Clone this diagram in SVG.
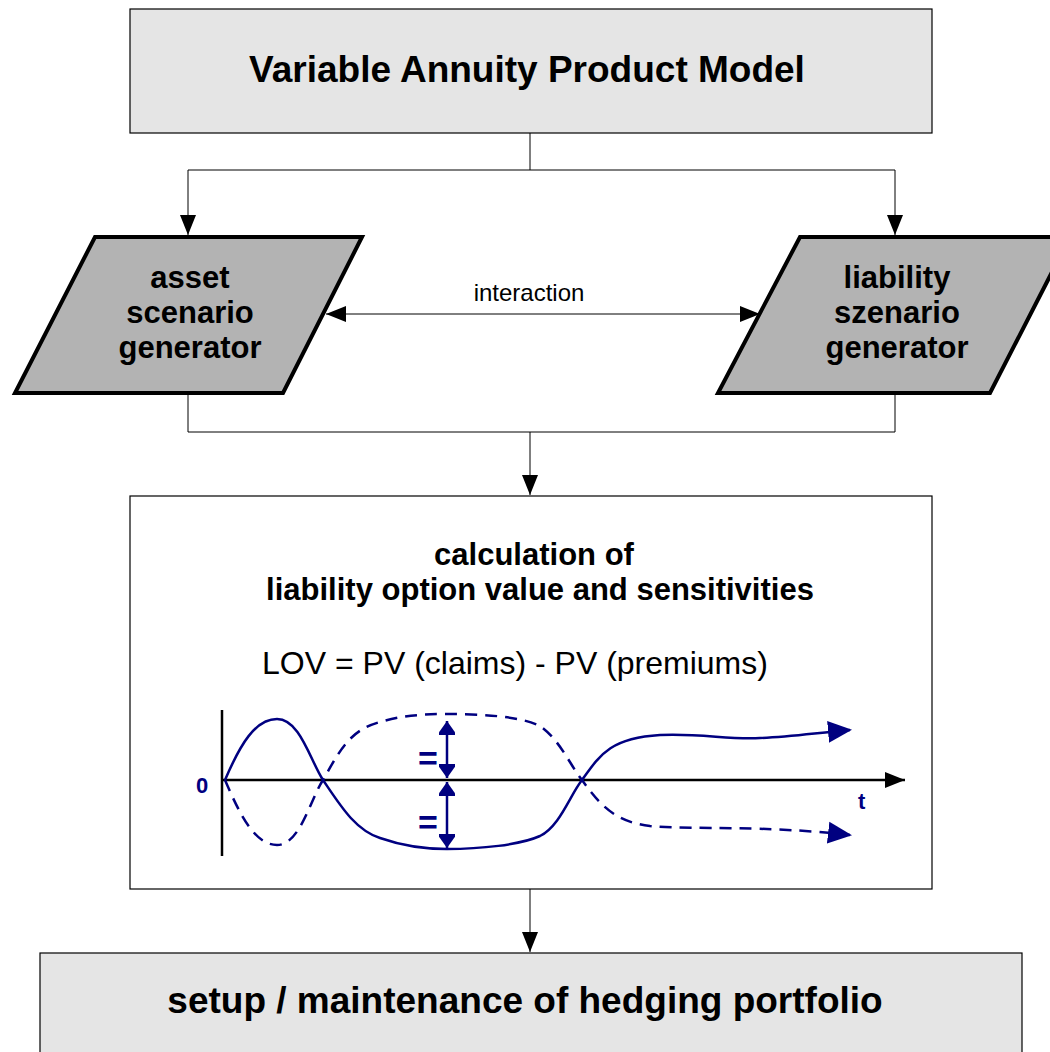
<svg xmlns="http://www.w3.org/2000/svg" width="1050" height="1052" viewBox="0 0 1050 1052">
<defs>
<style>
.box{fill:#e5e5e5;stroke:#000;stroke-width:1.2}
.para{fill:#b3b3b3;stroke:#000;stroke-width:4;stroke-linejoin:miter}
.t{font-family:"Liberation Sans",Arial,sans-serif;fill:#000;text-anchor:middle}
.b{font-weight:bold}
.nv{font-family:"Liberation Sans",Arial,sans-serif;font-weight:bold;fill:#000080}
.conn{fill:none;stroke:#000;stroke-width:1}
.navy{fill:none;stroke:#000080;stroke-width:2.5}
</style>
<marker id="ah" markerUnits="userSpaceOnUse" markerWidth="22" markerHeight="22" viewBox="0 0 22 22" refX="20" refY="11" orient="auto-start-reverse"><path d="M0,3 L20,11 L0,19 Z" fill="#000"/></marker>
<marker id="nh" markerUnits="userSpaceOnUse" markerWidth="26" markerHeight="26" viewBox="0 0 26 26" refX="22" refY="13" orient="auto"><path d="M0,2 L24,13 L0,24 Z" fill="#000080"/></marker>
<marker id="vh" markerUnits="userSpaceOnUse" markerWidth="22" markerHeight="16" viewBox="0 0 22 16" refX="14" refY="8" orient="auto-start-reverse"><path d="M0,-2 L14,8 L0,18 Z" fill="#000080"/></marker>
</defs>

<g id="connectors">
<path class="conn" d="M530,133 V170 M188,170 H895"/>
<path class="conn" d="M188,170 V235" marker-end="url(#ah)"/>
<path class="conn" d="M895,170 V235" marker-end="url(#ah)"/>
<path class="conn" d="M326,314 H760" marker-start="url(#ah)" marker-end="url(#ah)"/>
<path class="conn" d="M188,393 V432 H895 V393"/>
<path class="conn" d="M530,432 V495" marker-end="url(#ah)"/>
<path class="conn" d="M530,889 V952" marker-end="url(#ah)"/>
<text class="t" x="529" y="301" font-size="24">interaction</text>
</g>

<g id="node-product-model">
<rect class="box" x="130" y="9" width="802" height="124"/>
<text class="t b" x="527" y="82" font-size="37">Variable Annuity Product Model</text>
</g>

<g id="node-asset">
<polygon class="para" points="95,237 362,237 283,393 15,393"/>
<text class="t b" x="190" y="288" font-size="31">asset</text>
<text class="t b" x="190" y="323" font-size="31">scenario</text>
<text class="t b" x="190" y="358" font-size="31">generator</text>
</g>

<g id="node-liability">
<polygon class="para" points="800,237 1070,237 990,393 718,393"/>
<text class="t b" x="897" y="288" font-size="31">liability</text>
<text class="t b" x="897" y="323" font-size="31">szenario</text>
<text class="t b" x="897" y="358" font-size="31">generator</text>
</g>

<g id="node-calculation">
<rect x="130" y="496" width="802" height="393" fill="#fff" stroke="#000" stroke-width="1.2"/>
<text class="t b" x="534" y="565" font-size="31">calculation of</text>
<text class="t b" x="540" y="600" font-size="31">liability option value and sensitivities</text>
<text class="t" x="515" y="674" font-size="32">LOV = PV (claims) - PV (premiums)</text>
<g id="chart">
<path d="M222,710 V856" stroke="#000" stroke-width="2.5"/>
<path d="M222,780 H905" stroke="#000" stroke-width="2.5" fill="none" marker-end="url(#ah)"/>
<path class="navy" d="M225,780 C240,745 255,719 277,719 C300,719 310,760 323,780 C340,805 355,830 380,838 C400,845 420,849 447,849 C480,849 520,845 540,836 C560,826 570,795 582,780 C600,755 610,738 660,735 C700,733 730,740 760,738 C790,737 815,733 850,730" marker-end="url(#nh)"/>
<path class="navy" stroke-dasharray="12,8" d="M225,780 C240,815 255,845 277,845 C300,845 310,800 323,780 C340,750 350,730 380,722 C400,716 420,714 447,714 C480,714 520,716 540,726 C560,740 570,765 582,780 C600,805 615,822 650,826 C700,830 760,825 850,835" marker-end="url(#nh)"/>
<path class="navy" d="M447,721 V778" marker-start="url(#vh)" marker-end="url(#vh)"/>
<path class="navy" d="M447,782 V848" marker-start="url(#vh)" marker-end="url(#vh)"/>
<text class="nv" x="418" y="770" font-size="34">=</text>
<text class="nv" x="418" y="834" font-size="34">=</text>
<text class="nv" x="196" y="793" font-size="22">0</text>
<text class="nv" x="858" y="809" font-size="22">t</text>
</g>
</g>

<g id="node-hedging">
<rect class="box" x="40" y="953" width="982" height="120"/>
<text class="t b" x="525" y="1013" font-size="37">setup / maintenance of hedging portfolio</text>
</g>
</svg>
